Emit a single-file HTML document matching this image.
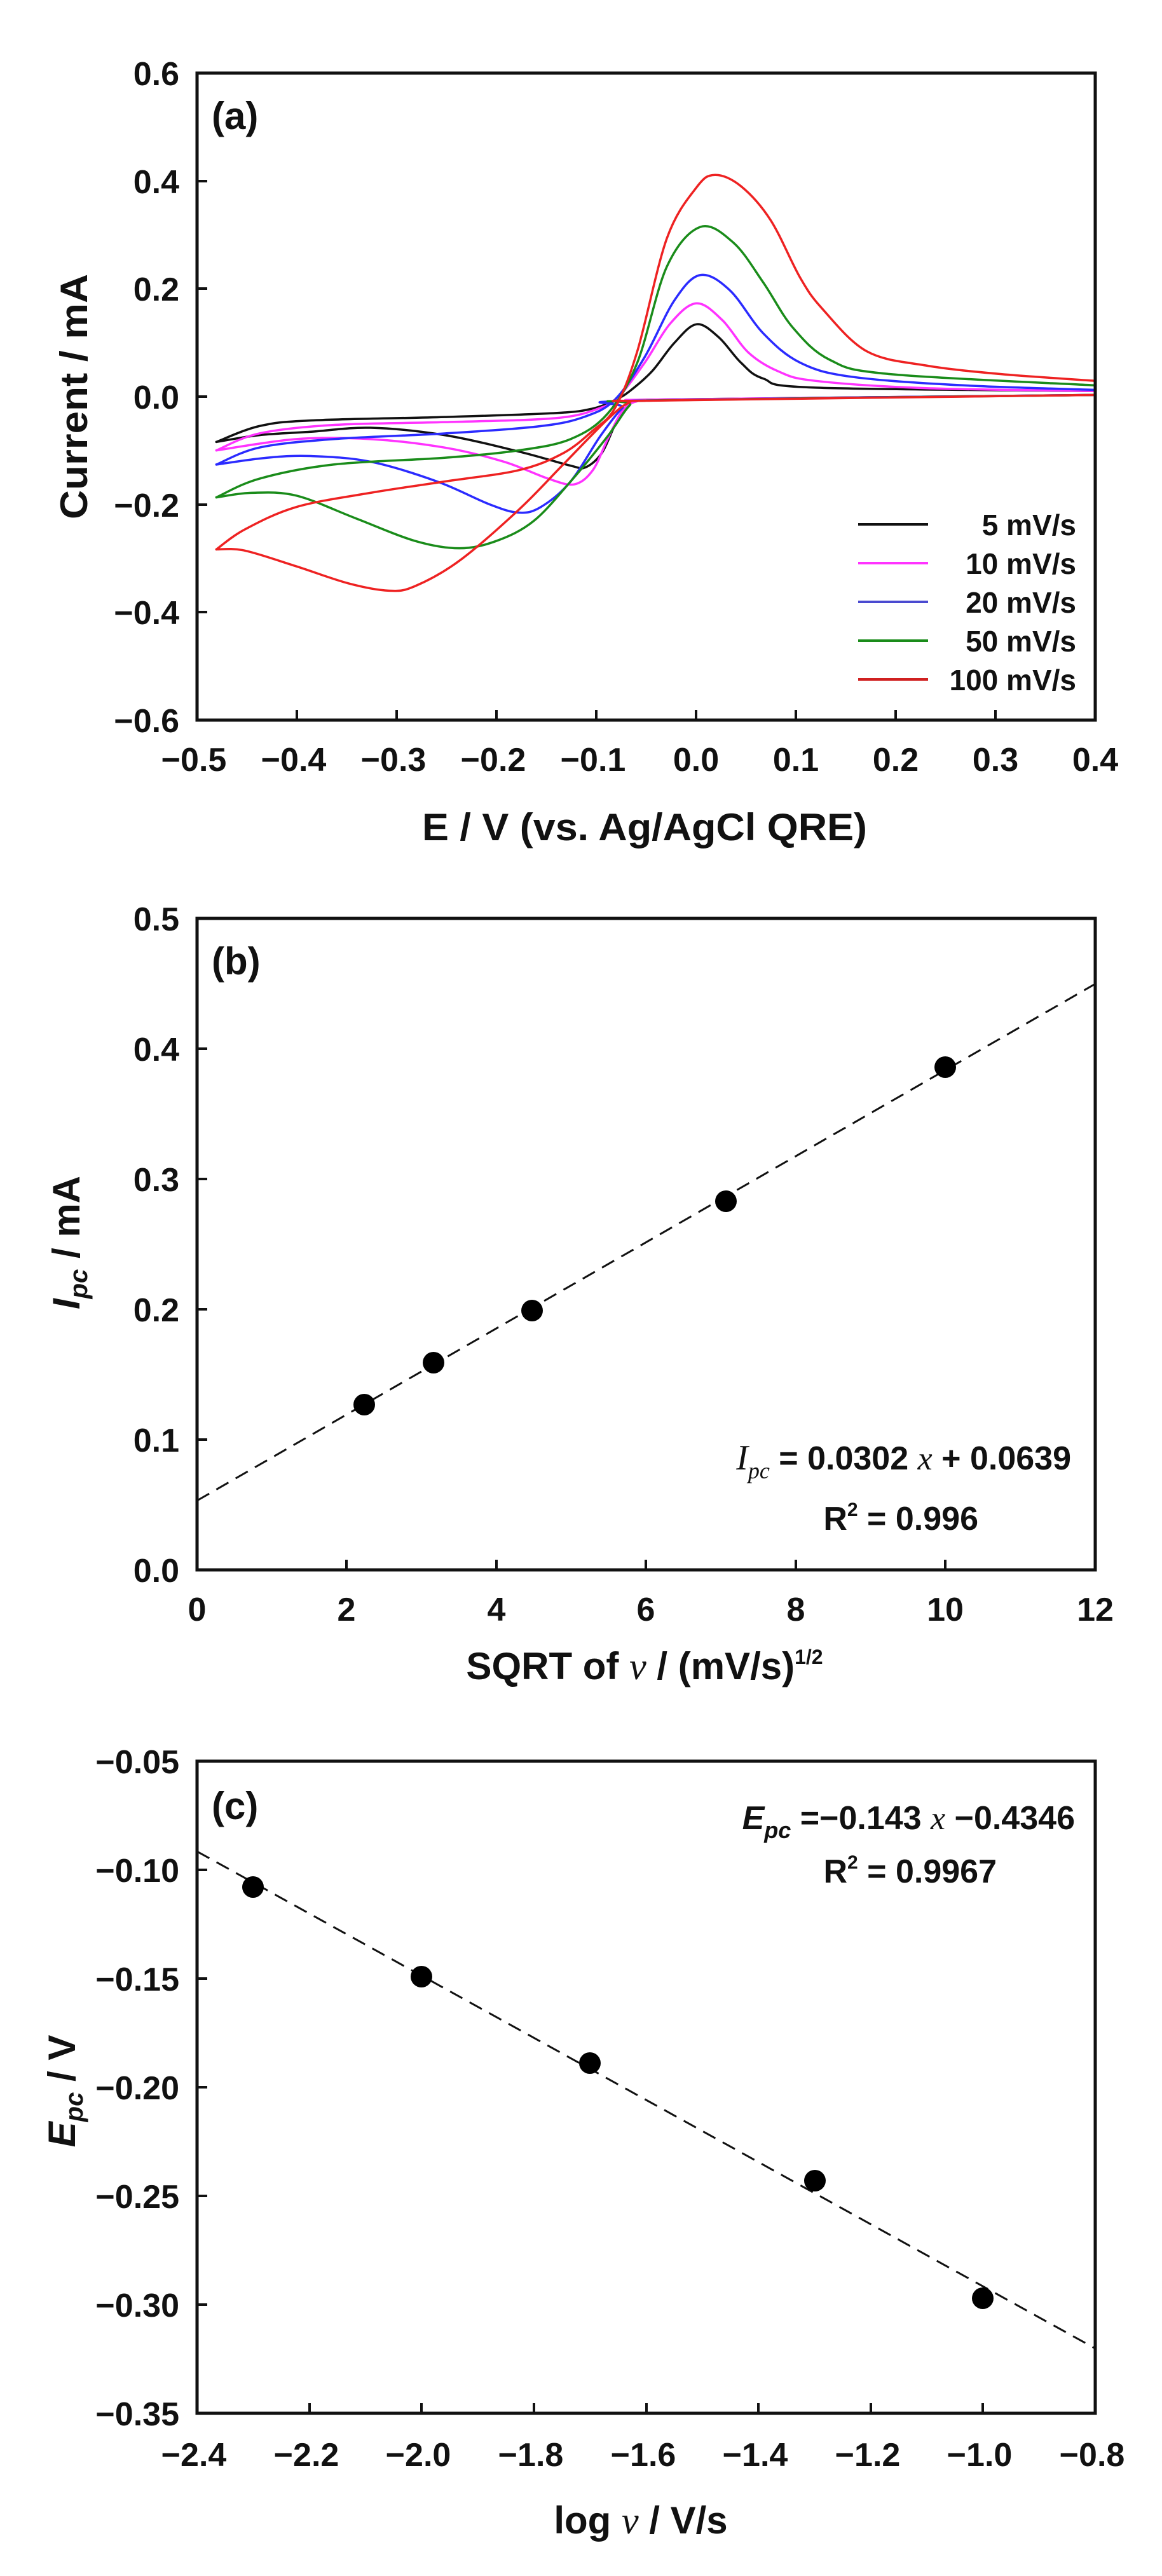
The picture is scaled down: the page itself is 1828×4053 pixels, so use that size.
<!DOCTYPE html>
<html><head><meta charset="utf-8"><style>
html,body{margin:0;padding:0;background:#fff}
svg{display:block}
text{font-family:"Liberation Sans",Arial,sans-serif;font-weight:bold;fill:#111}
.t{font-size:52px}
.ax{font-size:60px}
</style></head><body>
<svg width="1828" height="4053" viewBox="0 0 1828 4053" xmlns="http://www.w3.org/2000/svg">
<rect width="1828" height="4053" fill="#fff"/>

<!-- ===== Panel (a) ===== -->
<g fill="none" stroke-linejoin="round" stroke-linecap="round">
<g transform="matrix(1.1657,0,0,0.89,0,1.1)">
<polyline class="sm" vector-effect="non-scaling-stroke" stroke="#111" stroke-width="3.5" points="292,780 350,752 420,742 600,736 750,729 800,721 830,706 850,690 880,655 910,605 940,572 970,595 1000,640 1030,668 1100,684 1478,690"/>
<polyline class="sm" vector-effect="non-scaling-stroke" stroke="#111" stroke-width="3.5" points="1478,697 900,705 860,708 845,720 830,750 812,800 790,825 770,822 700,797 600,768 500,755 420,762 350,768 292,780"/>
<polyline class="sm" vector-effect="non-scaling-stroke" stroke="#ff33ff" stroke-width="3.5" points="292,795 350,765 450,750 600,745 750,738 810,720 835,700 870,640 905,570 940,535 975,565 1010,622 1050,655 1100,672 1250,685 1478,690"/>
<polyline class="sm" vector-effect="non-scaling-stroke" stroke="#ff33ff" stroke-width="3.5" points="1478,697 900,705 860,708 840,725 820,775 800,830 775,855 740,845 680,815 600,790 500,775 400,775 292,795"/>
<polyline class="sm" vector-effect="non-scaling-stroke" stroke="#2b2bff" stroke-width="3.5" points="292,820 350,790 450,775 600,765 730,752 790,735 830,705 870,630 910,530 945,485 985,512 1030,588 1080,640 1150,665 1300,680 1478,688"/>
<polyline class="sm" vector-effect="non-scaling-stroke" stroke="#2b2bff" stroke-width="3.5" points="1478,697 860,707 840,720 810,770 770,850 730,895 700,905 660,890 590,850 500,815 420,805 360,808 292,820"/>
<polyline class="sm" vector-effect="non-scaling-stroke" stroke="#1a8c1a" stroke-width="3.5" points="292,878 350,845 450,820 600,808 700,795 770,775 820,730 860,640 900,470 945,400 990,428 1030,498 1070,578 1120,635 1200,660 1478,680"/>
<polyline class="sm" vector-effect="non-scaling-stroke" stroke="#1a8c1a" stroke-width="3.5" points="1478,697 870,707 850,715 820,770 770,850 720,920 670,955 620,968 560,955 480,915 400,875 340,870 292,878"/>
<polyline class="sm" vector-effect="non-scaling-stroke" stroke="#ee2222" stroke-width="3.5" points="292,970 330,935 400,895 500,870 600,850 700,830 760,800 800,760 830,720 860,620 900,420 940,330 965,308 1000,328 1040,388 1080,490 1110,545 1170,620 1250,645 1350,660 1478,672"/>
<polyline class="sm" vector-effect="non-scaling-stroke" stroke="#ee2222" stroke-width="3.5" points="1478,697 880,707 850,710 820,740 760,820 700,900 620,990 560,1035 525,1043 470,1030 400,1000 330,972 292,970"/>
</g>
</g>
<rect x="310" y="115" width="1413" height="1018" fill="none" stroke="#111" stroke-width="5"/>
<g stroke="#111" stroke-width="4">
<line x1="467" y1="1133" x2="467" y2="1117"/><line x1="624" y1="1133" x2="624" y2="1117"/><line x1="781" y1="1133" x2="781" y2="1117"/><line x1="938" y1="1133" x2="938" y2="1117"/><line x1="1095" y1="1133" x2="1095" y2="1117"/><line x1="1252" y1="1133" x2="1252" y2="1117"/><line x1="1409" y1="1133" x2="1409" y2="1117"/><line x1="1566" y1="1133" x2="1566" y2="1117"/>
<line x1="310" y1="285" x2="326" y2="285"/><line x1="310" y1="454" x2="326" y2="454"/><line x1="310" y1="624" x2="326" y2="624"/><line x1="310" y1="794" x2="326" y2="794"/><line x1="310" y1="963" x2="326" y2="963"/>
</g>
<g class="t" text-anchor="end">
<text x="282" y="134">0.6</text><text x="282" y="304">0.4</text><text x="282" y="473">0.2</text><text x="282" y="643">0.0</text><text x="282" y="813">−0.2</text><text x="282" y="982">−0.4</text><text x="282" y="1152">−0.6</text>
</g>
<g class="t" text-anchor="middle">
<text x="305" y="1213">−0.5</text><text x="462" y="1213">−0.4</text><text x="619" y="1213">−0.3</text><text x="776" y="1213">−0.2</text><text x="933" y="1213">−0.1</text><text x="1095" y="1213">0.0</text><text x="1252" y="1213">0.1</text><text x="1409" y="1213">0.2</text><text x="1566" y="1213">0.3</text><text x="1723" y="1213">0.4</text>
</g>
<text x="333" y="203" style="font-size:60px">(a)</text>
<text class="ax" x="1014" y="1322" text-anchor="middle" textLength="700" lengthAdjust="spacingAndGlyphs">E / V (vs. Ag/AgCl QRE)</text>
<text class="ax" transform="translate(137,624) rotate(-90)" text-anchor="middle" textLength="386" lengthAdjust="spacingAndGlyphs">Current / mA</text>
<g stroke-width="4">
<line x1="1350" y1="825" x2="1460" y2="825" stroke="#111"/>
<line x1="1350" y1="886" x2="1460" y2="886" stroke="#ff33ff"/>
<line x1="1350" y1="947" x2="1460" y2="947" stroke="#4a4ad0"/>
<line x1="1350" y1="1008" x2="1460" y2="1008" stroke="#1a8c1a"/>
<line x1="1350" y1="1069" x2="1460" y2="1069" stroke="#d02020"/>
</g>
<g text-anchor="end" style="font-size:46px">
<text x="1693" y="842">5 mV/s</text><text x="1693" y="903">10 mV/s</text><text x="1693" y="964">20 mV/s</text><text x="1693" y="1025">50 mV/s</text><text x="1693" y="1086">100 mV/s</text>
</g>

<!-- ===== Panel (b) ===== -->
<rect x="310" y="1445" width="1413" height="1025" fill="none" stroke="#111" stroke-width="5"/>
<g stroke="#111" stroke-width="4">
<line x1="545" y1="2470" x2="545" y2="2454"/><line x1="781" y1="2470" x2="781" y2="2454"/><line x1="1016" y1="2470" x2="1016" y2="2454"/><line x1="1252" y1="2470" x2="1252" y2="2454"/><line x1="1487" y1="2470" x2="1487" y2="2454"/>
<line x1="310" y1="2265" x2="326" y2="2265"/><line x1="310" y1="2060" x2="326" y2="2060"/><line x1="310" y1="1855" x2="326" y2="1855"/><line x1="310" y1="1650" x2="326" y2="1650"/>
</g>
<line x1="310" y1="2361" x2="1723" y2="1548" stroke="#111" stroke-width="3" stroke-dasharray="22,13"/>
<g fill="#000">
<circle cx="573" cy="2210" r="17"/><circle cx="682" cy="2144" r="17"/><circle cx="837" cy="2062" r="17"/><circle cx="1142" cy="1890" r="17"/><circle cx="1487" cy="1679" r="17"/>
</g>
<g class="t" text-anchor="end">
<text x="282" y="1464">0.5</text><text x="282" y="1669">0.4</text><text x="282" y="1874">0.3</text><text x="282" y="2079">0.2</text><text x="282" y="2284">0.1</text><text x="282" y="2489">0.0</text>
</g>
<g class="t" text-anchor="middle">
<text x="310" y="2550">0</text><text x="545" y="2550">2</text><text x="781" y="2550">4</text><text x="1016" y="2550">6</text><text x="1252" y="2550">8</text><text x="1487" y="2550">10</text><text x="1723" y="2550">12</text>
</g>
<text x="333" y="1533" style="font-size:60px">(b)</text>
<text x="1685" y="2312" text-anchor="end" style="font-size:52px"><tspan font-family="Liberation Serif" font-style="italic" font-weight="normal" font-size="56">I</tspan><tspan font-family="Liberation Serif" font-style="italic" font-weight="normal" font-size="36" dy="14">pc</tspan><tspan dy="-14"> = 0.0302 </tspan><tspan font-family="Liberation Serif" font-style="italic" font-weight="normal">x</tspan> + 0.0639</text>
<text x="1539" y="2407" text-anchor="end" style="font-size:52px">R<tspan font-size="30" dy="-22">2</tspan><tspan dy="22"> = 0.996</tspan></text>
<text class="ax" x="1014" y="2642" text-anchor="middle">SQRT of <tspan font-family="Liberation Serif" font-style="italic" font-weight="normal">ν</tspan> / (mV/s)<tspan font-size="32" dy="-24">1/2</tspan></text>
<text class="ax" transform="translate(125,1955) rotate(-90)" text-anchor="middle"><tspan font-style="italic">I</tspan><tspan font-style="italic" font-size="40" dy="12">pc</tspan><tspan dy="-12"> / mA</tspan></text>

<!-- ===== Panel (c) ===== -->
<rect x="310" y="2771" width="1413" height="1026" fill="none" stroke="#111" stroke-width="5"/>
<g stroke="#111" stroke-width="4">
<line x1="487" y1="3797" x2="487" y2="3781"/><line x1="663" y1="3797" x2="663" y2="3781"/><line x1="840" y1="3797" x2="840" y2="3781"/><line x1="1017" y1="3797" x2="1017" y2="3781"/><line x1="1193" y1="3797" x2="1193" y2="3781"/><line x1="1370" y1="3797" x2="1370" y2="3781"/><line x1="1546" y1="3797" x2="1546" y2="3781"/>
<line x1="310" y1="2942" x2="326" y2="2942"/><line x1="310" y1="3113" x2="326" y2="3113"/><line x1="310" y1="3284" x2="326" y2="3284"/><line x1="310" y1="3455" x2="326" y2="3455"/><line x1="310" y1="3626" x2="326" y2="3626"/>
</g>
<line x1="310" y1="2913" x2="1723" y2="3695" stroke="#111" stroke-width="3" stroke-dasharray="22,13"/>
<g fill="#000">
<circle cx="398" cy="2969" r="17"/><circle cx="663" cy="3110" r="17"/><circle cx="928" cy="3246" r="17"/><circle cx="1282" cy="3431" r="17"/><circle cx="1546" cy="3616" r="17"/>
</g>
<g class="t" text-anchor="end">
<text x="282" y="2790">−0.05</text><text x="282" y="2961">−0.10</text><text x="282" y="3132">−0.15</text><text x="282" y="3303">−0.20</text><text x="282" y="3474">−0.25</text><text x="282" y="3645">−0.30</text><text x="282" y="3816">−0.35</text>
</g>
<g class="t" text-anchor="middle">
<text x="305" y="3880">−2.4</text><text x="482" y="3880">−2.2</text><text x="658" y="3880">−2.0</text><text x="835" y="3880">−1.8</text><text x="1012" y="3880">−1.6</text><text x="1188" y="3880">−1.4</text><text x="1365" y="3880">−1.2</text><text x="1541" y="3880">−1.0</text><text x="1718" y="3880">−0.8</text>
</g>
<text x="333" y="2862" style="font-size:60px">(c)</text>
<text x="1691" y="2878" text-anchor="end" style="font-size:52px"><tspan font-style="italic">E</tspan><tspan font-style="italic" font-size="36" dy="14">pc</tspan><tspan dy="-14"> =−0.143 </tspan><tspan font-family="Liberation Serif" font-style="italic" font-weight="normal">x</tspan> −0.4346</text>
<text x="1568" y="2962" text-anchor="end" style="font-size:52px">R<tspan font-size="30" dy="-22">2</tspan><tspan dy="22"> = 0.9967</tspan></text>
<text class="ax" x="1008" y="3986" text-anchor="middle">log <tspan font-family="Liberation Serif" font-style="italic" font-weight="normal">ν</tspan> / V/s</text>
<text class="ax" transform="translate(118,3290) rotate(-90)" text-anchor="middle"><tspan font-style="italic">E</tspan><tspan font-style="italic" font-size="40" dy="12">pc</tspan><tspan dy="-12"> / V</tspan></text>
</svg>
<script>
document.querySelectorAll('polyline.sm').forEach(function(pl){
  var pts=pl.getAttribute('points').trim().split(/\s+/).map(function(s){var a=s.split(',');return [+a[0],+a[1]];});
  var d='M'+pts[0][0]+','+pts[0][1];
  for(var i=0;i<pts.length-1;i++){
    var p0=pts[Math.max(i-1,0)],p1=pts[i],p2=pts[i+1],p3=pts[Math.min(i+2,pts.length-1)];
    var c1x=p1[0]+(p2[0]-p0[0])/6,c1y=p1[1]+(p2[1]-p0[1])/6,c2x=p2[0]-(p3[0]-p1[0])/6,c2y=p2[1]-(p3[1]-p1[1])/6;
    d+=' C'+c1x+','+c1y+' '+c2x+','+c2y+' '+p2[0]+','+p2[1];
  }
  var p=document.createElementNS('http://www.w3.org/2000/svg','path');
  ['stroke','stroke-width','vector-effect'].forEach(function(a){p.setAttribute(a,pl.getAttribute(a));});
  p.setAttribute('d',d);p.setAttribute('fill','none');
  pl.parentNode.replaceChild(p,pl);
});
</script>
</body></html>
